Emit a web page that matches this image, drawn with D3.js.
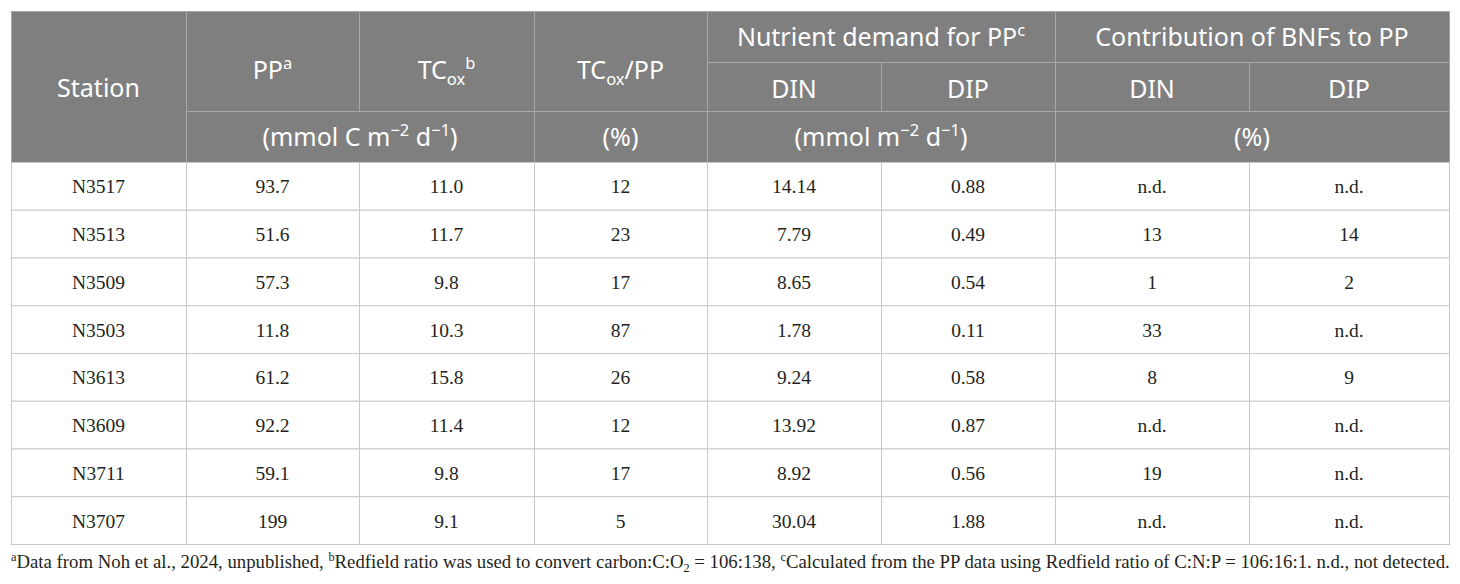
<!DOCTYPE html>
<html>
<head>
<meta charset="utf-8">
<script src="https://cdn.jsdelivr.net/npm/d3@7"></script>
<style>
  body { margin: 0; background: #fff; }
</style>
</head>
<body>
<svg id="table"></svg>
<script>
// table values
const stations = ["N3517", "N3513", "N3509", "N3503", "N3613", "N3609", "N3711", "N3707"];
const pp = ["93.7", "51.6", "57.3", "11.8", "61.2", "92.2", "59.1", "199"];
const tcox = ["11.0", "11.7", "9.8", "10.3", "15.8", "11.4", "9.8", "9.1"];
const tcoxPp = ["12", "23", "17", "87", "26", "12", "17", "5"];
const dinDemand = ["14.14", "7.79", "8.65", "1.78", "9.24", "13.92", "8.92", "30.04"];
const dipDemand = ["0.88", "0.49", "0.54", "0.11", "0.58", "0.87", "0.56", "1.88"];
const dinBnf = ["n.d.", "13", "1", "33", "8", "n.d.", "19", "n.d."];
const dipBnf = ["n.d.", "14", "2", "n.d.", "9", "n.d.", "n.d.", "n.d."];

const columns = ["station", "pp", "tcox", "ratio", "dinD", "dipD", "dinB", "dipB"];
const columnValues = [stations, pp, tcox, tcoxPp, dinDemand, dipDemand, dinBnf, dipBnf];

const W = 1460, H = 584;
const colEdges = [11, 186, 359, 534, 707, 881, 1055, 1249, 1449];
const headEdges = [11, 62, 111, 162];
const bodyBottom = 544;

const headColor = "#7f7f7f";
const headLine = "#a6a6a6";
const gridColor = "#c8c8c8";
const headFont = "'Noto Sans', sans-serif";
const bodyFont = "'Liberation Serif', 'Times New Roman', serif";

const svg = d3.select("#table").attr("width", W).attr("height", H);

const colX = d3.scaleOrdinal().domain(columns).range(colEdges.slice(0, -1));
const colW = d3.scaleOrdinal().domain(columns).range(d3.pairs(colEdges).map(p => p[1] - p[0]));
const rowY = d3.scaleBand().domain(stations).range([headEdges[3], bodyBottom]);

// rich text: segments [text, mode] where mode is "", "sup" or "sub"
function rich(sel, segs, size) {
  let shift = 0;
  segs.forEach(([t, mode]) => {
    const target = mode === "sup" ? -size * 0.4 : mode === "sub" ? size * 0.22 : 0;
    sel.append("tspan")
      .attr("dy", target - shift)
      .style("font-size", mode ? (size * 0.66) + "px" : size + "px")
      .text(t);
    shift = target;
  });
}

// header cells: [col start, col end, row start, row end, segments, baseline]
const headerCells = [
  [0, 1, 0, 3, [["Station", ""]], 97],
  [1, 2, 0, 2, [["PP", ""], ["a", "sup"]], 79],
  [2, 3, 0, 2, [["TC", ""], ["ox", "sub"], ["b", "sup"]], 79],
  [3, 4, 0, 2, [["TC", ""], ["ox", "sub"], ["/PP", ""]], 79],
  [4, 6, 0, 1, [["Nutrient demand for PP", ""], ["c", "sup"]], 46],
  [6, 8, 0, 1, [["Contribution of BNFs to PP", ""]], 46],
  [4, 5, 1, 2, [["DIN", ""]], 98],
  [5, 6, 1, 2, [["DIP", ""]], 98],
  [6, 7, 1, 2, [["DIN", ""]], 98],
  [7, 8, 1, 2, [["DIP", ""]], 98],
  [1, 3, 2, 3, [["(mmol C m", ""], ["\u22122", "sup"], [" d", ""], ["\u22121", "sup"], [")", ""]], 146],
  [3, 4, 2, 3, [["(%)", ""]], 146],
  [4, 6, 2, 3, [["(mmol m", ""], ["\u22122", "sup"], [" d", ""], ["\u22121", "sup"], [")", ""]], 146],
  [6, 8, 2, 3, [["(%)", ""]], 146]
];

const head = svg.append("g");
head.append("rect")
  .attr("x", colEdges[0]).attr("y", headEdges[0])
  .attr("width", colEdges[8] - colEdges[0]).attr("height", headEdges[3] - headEdges[0])
  .attr("fill", headColor);

const hc = head.selectAll("g.cell").data(headerCells).join("g").attr("class", "cell");
hc.append("rect")
  .attr("x", d => colEdges[d[0]] + 0.5)
  .attr("y", d => headEdges[d[2]] + 0.5)
  .attr("width", d => colEdges[d[1]] - colEdges[d[0]])
  .attr("height", d => headEdges[d[3]] - headEdges[d[2]])
  .attr("fill", "none")
  .attr("stroke", headLine)
  .attr("stroke-width", 1);
hc.append("text")
  .attr("x", d => (colEdges[d[0]] + colEdges[d[1]]) / 2)
  .attr("y", d => d[5])
  .attr("text-anchor", "middle")
  .attr("fill", "#fff")
  .style("font-family", headFont)
  .each(function(d) { rich(d3.select(this), d[4], 25); });

// body
const body = svg.append("g");
columns.forEach((c, ci) => {
  const cells = body.selectAll("g.c" + ci)
    .data(columnValues[ci].map((v, i) => ({ v, s: stations[i] })))
    .join("g").attr("class", "c" + ci);
  cells.append("rect")
    .attr("x", colX(c) + 0.5)
    .attr("y", d => rowY(d.s) + 0.5)
    .attr("width", colW(c))
    .attr("height", rowY.bandwidth())
    .attr("fill", "#fff")
    .attr("stroke", gridColor);
  cells.append("text")
    .attr("x", colX(c) + colW(c) / 2)
    .attr("y", d => rowY(d.s) + rowY.bandwidth() / 2 + 7.5)
    .attr("text-anchor", "middle")
    .attr("fill", "#231f20")
    .style("font-family", bodyFont)
    .style("font-size", "19.5px")
    .text(d => d.v);
});

// footnote
const foot = svg.append("text")
  .attr("x", colEdges[0])
  .attr("y", 568)
  .attr("fill", "#231f20")
  .style("font-family", bodyFont);
rich(foot, [
  ["a", "sup"], ["Data from Noh et al., 2024, unpublished, ", ""],
  ["b", "sup"], ["Redfield ratio was used to convert carbon:C:O", ""], ["2", "sub"],
  [" = 106:138, ", ""], ["c", "sup"],
  ["Calculated from the PP data using Redfield ratio of C:N:P = 106:16:1. n.d., not detected.", ""]
], 18.75);
</script>
</body>
</html>
